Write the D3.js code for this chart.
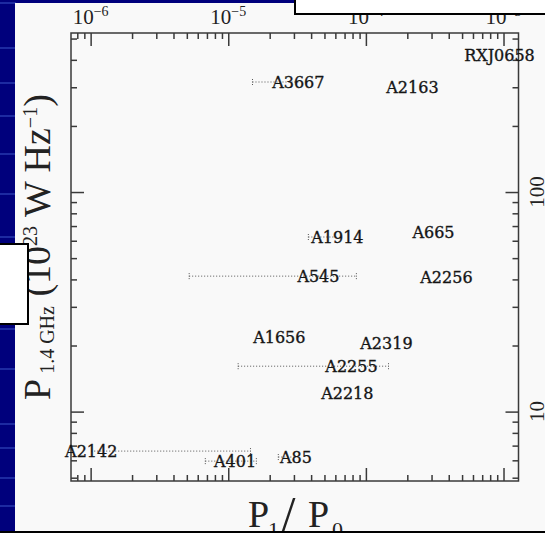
<!DOCTYPE html>
<html>
<head>
<meta charset="utf-8">
<script src="https://cdn.jsdelivr.net/npm/d3@7"></script>
<style>
  html, body { margin: 0; padding: 0; background: #f9f9f9; }
  svg { display: block; }
</style>
</head>
<body>
<svg id="chart" width="545" height="533"></svg>
<script>
// Radio power at 1.4 GHz against power ratio P1/P0 for galaxy clusters
const clusters = ["RXJ0658", "A3667", "A2163", "A1914", "A665", "A545", "A2256",
                  "A1656", "A2319", "A2255", "A2218", "A2142", "A401", "A85"];
const ratio    = [9.35e-4, 3.23e-5, 2.18e-4, 6.21e-5, 3.10e-4, 4.52e-5, 3.85e-4,
                  2.35e-5, 1.41e-4, 7.86e-5, 7.33e-5, 1.01e-6, 1.12e-5, 3.10e-5];
const power    = [421, 317, 301, 62.4, 65.8, 41.4, 41.0,
                  21.8, 20.5, 16.1, 12.1, 6.61, 5.95, 6.21];
// ranges on the ratio (null: the range stops at the cluster's own value)
const ratioLo  = [null, 1.50e-5, null, 3.82e-5, null, 5.2e-6, null,
                  null, null, 1.18e-5, null, null, 6.81e-6, 2.31e-5];
const ratioHi  = [null, null, null, null, null, 8.53e-5, null,
                  null, null, 1.46e-4, null, 1.45e-5, 1.6e-5, null];

const xDomain = [7.2e-7, 1.285e-3];
const yDomain = [4.83, 530];
const xTickExps = [-6, -5, -4, -3];
const yTickLabels = [10, 100];

const svg = d3.select("#chart");
const W = 545, H = 533;
const pLeft = 71, pRight = 518.5, pTop = 33, pBottom = 481;

// slide background: navy strip with lighter streaks
const bg = svg.append("g");
bg.append("rect").attr("x", 0).attr("y", 0).attr("width", W).attr("height", H).attr("fill", "#00007c");
const streaks = [2, 47, 82, 115, 153, 193, 236, 328, 368, 423, 447, 477, 505];
bg.selectAll("rect.streak").data(streaks).join("rect")
  .attr("class", "streak")
  .attr("x", 0).attr("y", d => d).attr("width", 16).attr("height", 2)
  .attr("fill", "#2a3cb0").attr("opacity", 0.7);
bg.append("rect").attr("x", 15).attr("y", 3).attr("width", W - 15).attr("height", H - 3).attr("fill", "#f9f9f9");

const x = d3.scaleLog().domain(xDomain).range([pLeft, pRight]);
const y = d3.scaleLog().domain(yDomain).range([pBottom, pTop]);

function logTicks(domain) {
  const out = [];
  const e0 = Math.floor(Math.log10(domain[0])), e1 = Math.ceil(Math.log10(domain[1]));
  for (let e = e0; e <= e1; e++) {
    for (let m = 1; m <= 9; m++) {
      const v = m * Math.pow(10, e);
      if (v >= domain[0] && v <= domain[1]) out.push({ v, major: m === 1 });
    }
  }
  return out;
}
const xt = logTicks(xDomain), yt = logTicks(yDomain);
const xMajor = xt.filter(d => d.major).map(d => d.v), xMinor = xt.filter(d => !d.major).map(d => d.v);
const yMajor = yt.filter(d => d.major).map(d => d.v), yMinor = yt.filter(d => !d.major).map(d => d.v);

const axisColor = "#3a3a3a";
function styleAxis(g) {
  g.select(".domain").remove();
  g.selectAll("line").attr("stroke", axisColor).attr("stroke-width", 1.5);
  g.selectAll("text").remove();
}
const axes = svg.append("g");
[[xMajor, 13], [xMinor, 6]].forEach(([vals, len]) => {
  axes.append("g").attr("transform", `translate(0,${pTop})`)
    .call(d3.axisBottom(x).tickValues(vals).tickSize(len).tickFormat("")).call(styleAxis);
  axes.append("g").attr("transform", `translate(0,${pBottom})`)
    .call(d3.axisTop(x).tickValues(vals).tickSize(len).tickFormat("")).call(styleAxis);
});
[[yMajor, 13], [yMinor, 6]].forEach(([vals, len]) => {
  axes.append("g").attr("transform", `translate(${pLeft},0)`)
    .call(d3.axisRight(y).tickValues(vals).tickSize(len).tickFormat("")).call(styleAxis);
  axes.append("g").attr("transform", `translate(${pRight},0)`)
    .call(d3.axisLeft(y).tickValues(vals).tickSize(len).tickFormat("")).call(styleAxis);
});
axes.append("rect").attr("x", pLeft).attr("y", pTop).attr("width", pRight - pLeft).attr("height", pBottom - pTop)
  .attr("fill", "none").attr("stroke", axisColor).attr("stroke-width", 1.5);

// top tick labels: powers of ten
const serif = "'Liberation Serif', 'DejaVu Serif', serif";
const topLab = svg.append("g").attr("font-family", serif).attr("fill", "#222");
xTickExps.forEach(e => {
  const t = topLab.append("text").attr("x", x(Math.pow(10, e))).attr("y", 24)
    .attr("text-anchor", "middle").attr("font-size", 21);
  t.append("tspan").text("10");
  t.append("tspan").attr("font-size", 14).attr("dy", -8).text("\u2212" + Math.abs(e));
});

// right tick labels, rotated
yTickLabels.forEach(v => {
  svg.append("text")
    .attr("transform", `translate(544,${y(v)}) rotate(-90)`)
    .attr("text-anchor", "middle").attr("font-family", serif).attr("font-size", 21).attr("fill", "#222")
    .text(String(v));
});

// range bars: dotted lines with small end marks
const bars = svg.append("g").attr("stroke", "#555").attr("stroke-width", 1).attr("fill", "none");
clusters.forEach((c, i) => {
  if (ratioLo[i] === null && ratioHi[i] === null) return;
  const a = ratioLo[i] !== null ? ratioLo[i] : ratio[i];
  const b = ratioHi[i] !== null ? ratioHi[i] : ratio[i];
  const yy = y(power[i]);
  bars.append("line").attr("x1", x(a)).attr("x2", x(b)).attr("y1", yy).attr("y2", yy)
    .attr("stroke-dasharray", "1,2");
  [ratioLo[i], ratioHi[i]].forEach(v => {
    if (v === null) return;
    bars.append("line").attr("x1", x(v)).attr("x2", x(v)).attr("y1", yy - 3).attr("y2", yy + 3)
      .attr("stroke-dasharray", "1,1.5");
  });
});

// cluster names at their positions
svg.append("g").selectAll("text").data(clusters).join("text")
  .attr("x", (d, i) => x(ratio[i]))
  .attr("y", (d, i) => y(power[i]))
  .attr("dy", "0.36em")
  .attr("text-anchor", "middle")
  .attr("font-family", "'DejaVu Serif', serif")
  .attr("font-size", 16)
  .attr("fill", "#151515")
  .attr("stroke", "#151515").attr("stroke-width", 0.35)
  .text(d => d);

// axis titles
const xt1 = svg.append("text").attr("font-family", serif).attr("fill", "#222").attr("y", 527);
xt1.append("tspan").attr("x", 248).attr("font-size", 38).text("P");
xt1.append("tspan").attr("x", 268).attr("font-size", 22).attr("dy", 10).text("1");
xt1.append("tspan").attr("x", 281).attr("font-size", 52).attr("dy", -4).text("/");
xt1.append("tspan").attr("x", 308).attr("font-size", 38).attr("dy", -6).text("P");
xt1.append("tspan").attr("x", 332).attr("font-size", 22).attr("dy", 10).text("0");

const yt1 = svg.append("text").attr("font-family", serif).attr("fill", "#222")
  .attr("transform", "translate(50,400) rotate(-90)");
yt1.append("tspan").attr("font-size", 38).text("P");
yt1.append("tspan").attr("font-size", 20).attr("dy", 4).text(" 1.4 GHz");
yt1.append("tspan").attr("font-size", 38).attr("dy", -4).text(" (10");
yt1.append("tspan").attr("font-size", 20).attr("dy", -13).text("23");
yt1.append("tspan").attr("font-size", 38).attr("dy", 13).text(" W Hz");
yt1.append("tspan").attr("font-size", 20).attr("dy", -13).text("\u22121");
yt1.append("tspan").attr("font-size", 38).attr("dy", 13).text(")");

// overlapping slide boxes
svg.append("rect").attr("x", 295).attr("y", -3).attr("width", 260).attr("height", 17)
  .attr("fill", "#ffffff").attr("stroke", "#000").attr("stroke-width", 2);
const lbox = svg.append("g");
lbox.append("rect").attr("x", -3).attr("y", 244).attr("width", 31).attr("height", 80)
  .attr("fill", "#ffffff").attr("stroke", "#000").attr("stroke-width", 2);
lbox.append("text").attr("x", -15).attr("y", 310).attr("font-family", serif).attr("font-size", 30)
  .attr("fill", "#000").text("o");
svg.append("rect").attr("x", 0).attr("y", 531).attr("width", W).attr("height", 2).attr("fill", "#000");
</script>
</body>
</html>
